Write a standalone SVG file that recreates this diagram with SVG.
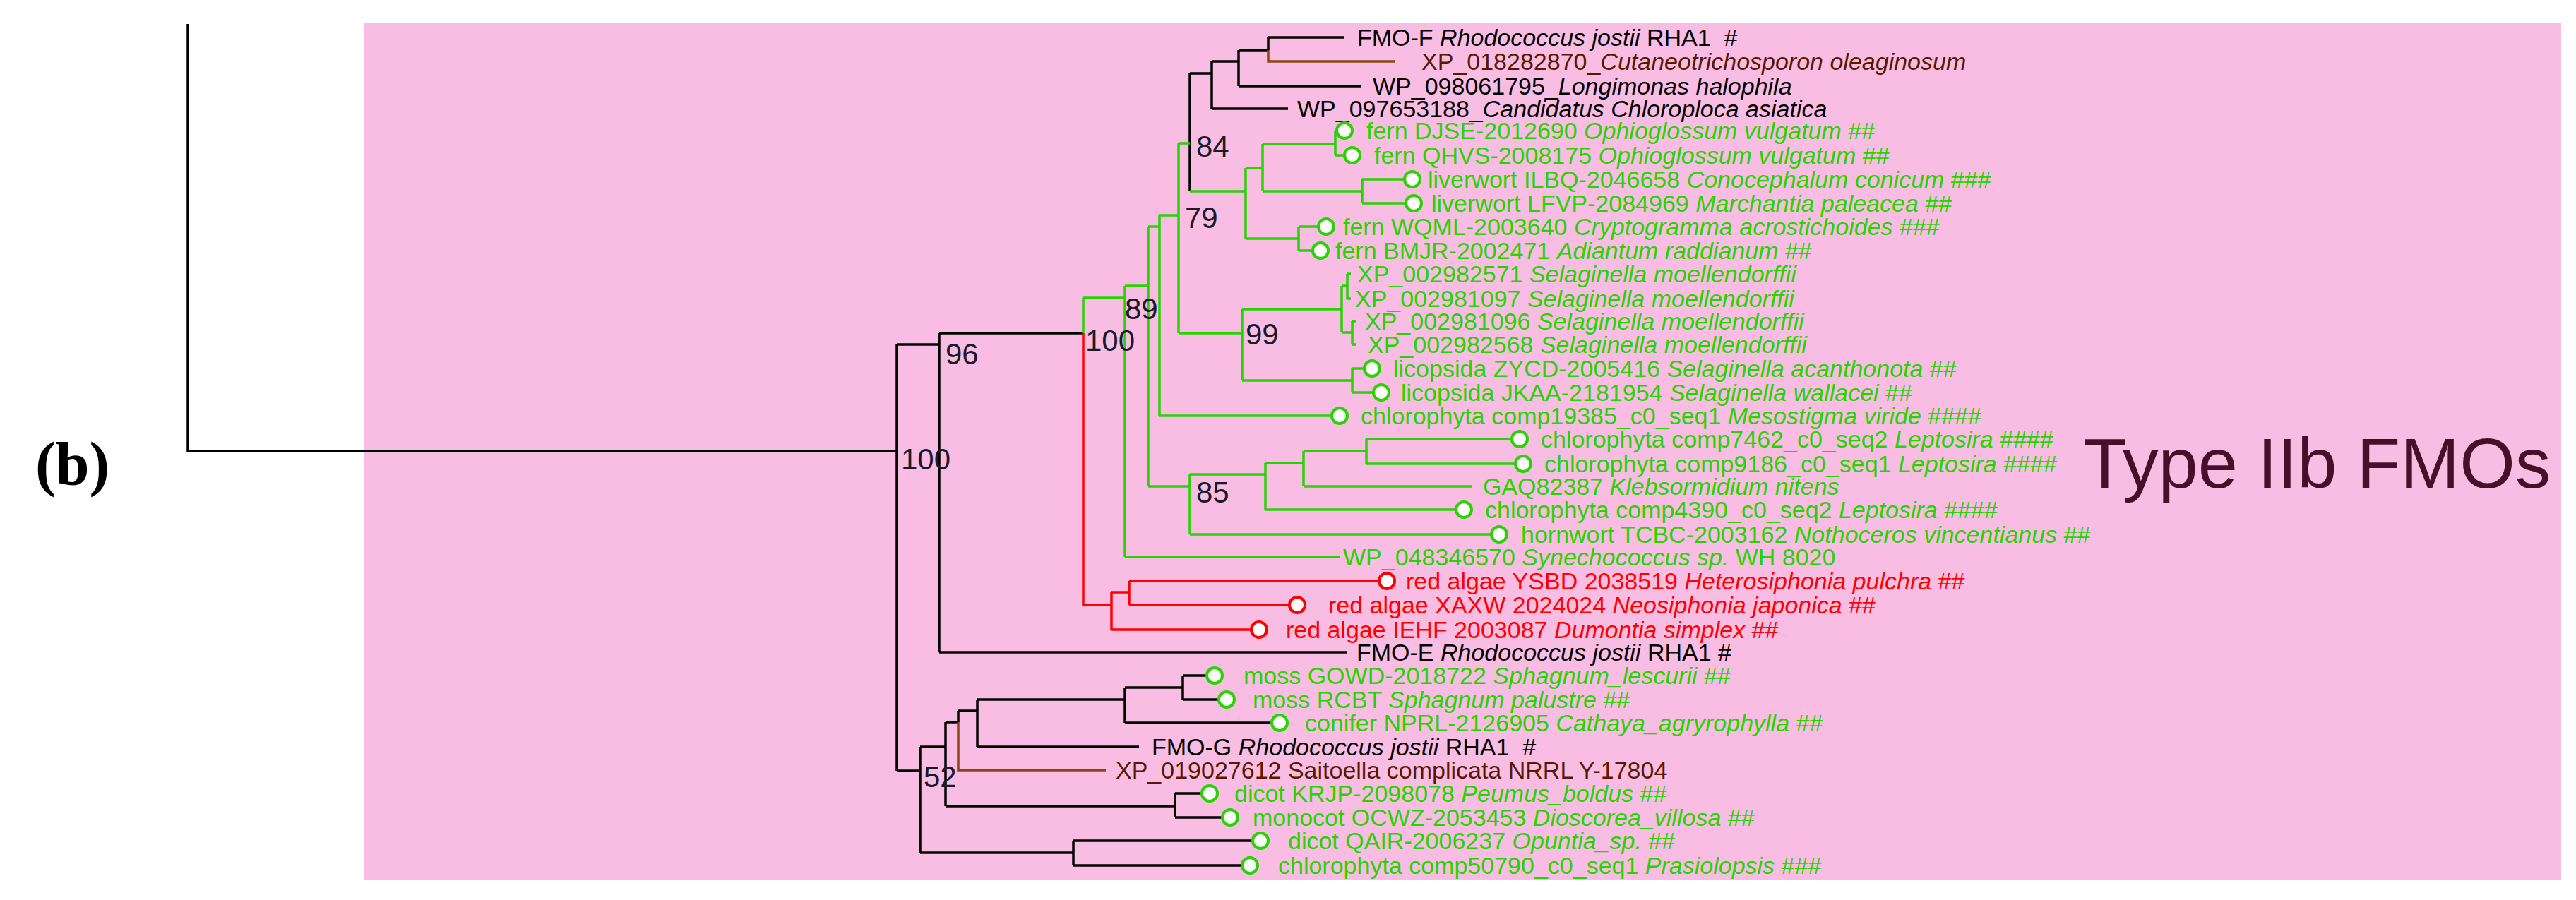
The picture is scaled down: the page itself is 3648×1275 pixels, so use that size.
<svg xmlns="http://www.w3.org/2000/svg" width="3648" height="1275" viewBox="0 0 3648 1275">
<style>
.k{fill:none;stroke:#000;stroke-width:3.5}
.g{fill:none;stroke:#26d400;stroke-width:3.5}
.r{fill:none;stroke:#ff0000;stroke-width:3.5}
.b{fill:none;stroke:#8b4513;stroke-width:3.5}
.cg{fill:#fff;stroke:#26d400;stroke-width:4}
.cr{fill:#fff;stroke:#ff0000;stroke-width:4}
text{font-family:"Liberation Sans",Arial,sans-serif;font-size:34px}
.tk{fill:#000}.tg{fill:#26d400}.tr{fill:#ff0000}.tb{fill:#5a1800}
.i{font-style:italic}
.lab{font-size:42px;fill:#1a1a2a}
</style>
<rect x="0" y="0" width="3648" height="1275" fill="#fff"/>
<rect x="515" y="33" width="3112" height="1213" fill="#f9bde3"/>
<text x="50" y="686" style="font-family:'Liberation Serif','Times New Roman',serif;font-size:86px;font-weight:bold">(b)</text>
<text x="2950" y="691" style="font-size:101px;fill:#4a0e2a">Type IIb FMOs</text>
<g id="connectors">
<path class="k" d="M266 34V639H1270M1270 488V1092M1270 488H1330M1330 472V924M1330 472H1534M1330 924H1908M1270 1092H1303M1303 1058V1208M1303 1058H1339M1339 1023V1142M1339 1023H1357M1357 1007V1023M1357 1007H1384M1384 991V1058M1384 1058H1613M1384 991H1593M1593 974V1024M1593 974H1675M1675 957V991M1675 957H1709M1675 991H1726M1593 1024H1801M1339 1142H1664M1664 1124V1158M1664 1124H1702M1664 1158H1731M1303 1208H1520M1520 1191V1226M1520 1191H1774M1520 1226H1759M1685 104V271M1685 104H1716M1716 87V154M1716 154H1824M1716 87H1754M1754 71V122M1754 122H1927M1754 71H1796M1796 53V71M1796 53H1904"/>
<path class="b" d="M1357 1023V1091H1566M1796 71V87H1976"/>
<path class="g" d="M1669 203H1685M1669 203V472M1669 305H1642M1642 305V589M1642 589H1886M1626 321H1642M1626 321V689M1626 689H1685M1593 405H1626M1593 405V789M1593 789H1897M1534 422H1593M1534 422V472M1685 271H1764M1764 238V338M1764 238H1788M1788 204V271M1788 204H1891M1891 185V220M1891 185H1893M1891 220H1904M1788 271H1929M1929 254V288M1929 254H1989M1929 288H1991M1764 338H1839M1839 321V355M1839 321H1867M1839 355H1859M1669 472H1759M1759 438V539M1759 438H1900M1900 405V471M1900 405H1908M1908 388V423M1908 388H1913M1908 423H1913M1900 471H1915M1915 455V488M1915 455H1920M1915 488H1920M1759 539H1915M1915 522V556M1915 522H1932M1915 556H1945M1685 672V757M1685 672H1792M1792 656V722M1792 656H1846M1846 639V689M1846 639H1935M1935 622V657M1935 622H2141M1935 657H2146M1846 689H2084M1792 722H2062M1685 757H2112"/>
<path class="r" d="M1534 472V857H1574M1574 839V892M1574 839H1599M1599 823V857M1599 823H1953M1599 857H1826M1574 892H1772"/>
</g>
<g id="labels">
<text class="lab" x="1694" y="222">84</text>
<text class="lab" x="1678" y="323">79</text>
<text class="lab" x="1593" y="452">89</text>
<text class="lab" x="1537" y="497">100</text>
<text class="lab" x="1339" y="516">96</text>
<text class="lab" x="1276" y="665">100</text>
<text class="lab" x="1764" y="488">99</text>
<text class="lab" x="1694" y="712">85</text>
<text class="lab" x="1308" y="1115">52</text>
</g>
<g id="tip-fmoF"><text class="tk" x="1922" y="65">FMO-F <tspan class="i">Rhodococcus jostii</tspan> RHA1&#160; #</text></g>
<g id="tip-xp018"><text class="tb" x="2013" y="99">XP_018282870_<tspan class="i">Cutaneotrichosporon oleaginosum</tspan></text></g>
<g id="tip-wp098"><text class="tk" x="1944" y="134">WP_098061795_<tspan class="i">Longimonas halophila</tspan></text></g>
<g id="tip-wp097"><text class="tk" x="1837" y="166">WP_097653188_<tspan class="i">Candidatus Chloroploca asiatica</tspan></text></g>
<g id="tip-djse"><circle class="cg" cx="1904" cy="185" r="11"/><text class="tg" x="1935" y="197">fern DJSE-2012690 <tspan class="i">Ophioglossum vulgatum</tspan> ##</text></g>
<g id="tip-qhvs"><circle class="cg" cx="1915" cy="220" r="11"/><text class="tg" x="1946" y="232">fern QHVS-2008175 <tspan class="i">Ophioglossum vulgatum</tspan> ##</text></g>
<g id="tip-ilbq"><circle class="cg" cx="2000" cy="254" r="11"/><text class="tg" x="2022" y="266">liverwort ILBQ-2046658 <tspan class="i">Conocephalum conicum</tspan> ###</text></g>
<g id="tip-lfvp"><circle class="cg" cx="2002" cy="288" r="11"/><text class="tg" x="2027" y="300">liverwort LFVP-2084969 <tspan class="i">Marchantia paleacea</tspan> ##</text></g>
<g id="tip-wqml"><circle class="cg" cx="1878" cy="321" r="11"/><text class="tg" x="1902" y="333">fern WQML-2003640 <tspan class="i">Cryptogramma acrostichoides</tspan> ###</text></g>
<g id="tip-bmjr"><circle class="cg" cx="1870" cy="355" r="11"/><text class="tg" x="1891" y="367">fern BMJR-2002471 <tspan class="i">Adiantum raddianum</tspan> ##</text></g>
<g id="tip-xp571"><text class="tg" x="1922" y="400">XP_002982571 <tspan class="i">Selaginella moellendorffii</tspan></text></g>
<g id="tip-xp097"><text class="tg" x="1919" y="435">XP_002981097 <tspan class="i">Selaginella moellendorffii</tspan></text></g>
<g id="tip-xp096"><text class="tg" x="1933" y="467">XP_002981096 <tspan class="i">Selaginella moellendorffii</tspan></text></g>
<g id="tip-xp568"><text class="tg" x="1937" y="500">XP_002982568 <tspan class="i">Selaginella moellendorffii</tspan></text></g>
<g id="tip-zycd"><circle class="cg" cx="1943" cy="522" r="11"/><text class="tg" x="1973" y="534">licopsida ZYCD-2005416 <tspan class="i">Selaginella acanthonota</tspan> ##</text></g>
<g id="tip-jkaa"><circle class="cg" cx="1956" cy="556" r="11"/><text class="tg" x="1984" y="568">licopsida JKAA-2181954 <tspan class="i">Selaginella wallacei</tspan> ##</text></g>
<g id="tip-c19385"><circle class="cg" cx="1897" cy="589" r="11"/><text class="tg" x="1927" y="601">chlorophyta comp19385_c0_seq1 <tspan class="i">Mesostigma viride</tspan> ####</text></g>
<g id="tip-c7462"><circle class="cg" cx="2152" cy="622" r="11"/><text class="tg" x="2182" y="634">chlorophyta comp7462_c0_seq2 <tspan class="i">Leptosira</tspan> ####</text></g>
<g id="tip-c9186"><circle class="cg" cx="2157" cy="657" r="11"/><text class="tg" x="2187" y="669">chlorophyta comp9186_c0_seq1 <tspan class="i">Leptosira</tspan> ####</text></g>
<g id="tip-gaq"><text class="tg" x="2100" y="701">GAQ82387 <tspan class="i">Klebsormidium nitens</tspan></text></g>
<g id="tip-c4390"><circle class="cg" cx="2073" cy="722" r="11"/><text class="tg" x="2103" y="734">chlorophyta comp4390_c0_seq2 <tspan class="i">Leptosira</tspan> ####</text></g>
<g id="tip-tcbc"><circle class="cg" cx="2123" cy="757" r="11"/><text class="tg" x="2154" y="769">hornwort TCBC-2003162 <tspan class="i">Nothoceros vincentianus</tspan> ##</text></g>
<g id="tip-wp048"><text class="tg" x="1902" y="801">WP_048346570 <tspan class="i">Synechococcus sp.</tspan> WH 8020</text></g>
<g id="tip-ysbd"><circle class="cr" cx="1964" cy="823" r="11"/><text class="tr" x="1991" y="835">red algae YSBD 2038519 <tspan class="i">Heterosiphonia pulchra</tspan> ##</text></g>
<g id="tip-xaxw"><circle class="cr" cx="1837" cy="857" r="11"/><text class="tr" x="1881" y="869">red algae XAXW 2024024 <tspan class="i">Neosiphonia japonica</tspan> ##</text></g>
<g id="tip-iehf"><circle class="cr" cx="1783" cy="892" r="11"/><text class="tr" x="1821" y="904">red algae IEHF 2003087 <tspan class="i">Dumontia simplex</tspan> ##</text></g>
<g id="tip-fmoE"><text class="tk" x="1921" y="936">FMO-E <tspan class="i">Rhodococcus jostii</tspan> RHA1 #</text></g>
<g id="tip-gowd"><circle class="cg" cx="1720" cy="957" r="11"/><text class="tg" x="1761" y="969">moss GOWD-2018722 <tspan class="i">Sphagnum_lescurii</tspan> ##</text></g>
<g id="tip-rcbt"><circle class="cg" cx="1737" cy="991" r="11"/><text class="tg" x="1774" y="1003">moss RCBT <tspan class="i">Sphagnum palustre</tspan> ##</text></g>
<g id="tip-nprl"><circle class="cg" cx="1812" cy="1024" r="11"/><text class="tg" x="1848" y="1036">conifer NPRL-2126905 <tspan class="i">Cathaya_agryrophylla</tspan> ##</text></g>
<g id="tip-fmoG"><text class="tk" x="1631" y="1070">FMO-G <tspan class="i">Rhodococcus jostii</tspan> RHA1&#160; #</text></g>
<g id="tip-xp019"><text class="tb" x="1580" y="1103">XP_019027612 Saitoella complicata NRRL Y-17804</text></g>
<g id="tip-krjp"><circle class="cg" cx="1713" cy="1124" r="11"/><text class="tg" x="1748" y="1136">dicot KRJP-2098078 <tspan class="i">Peumus_boldus</tspan> ##</text></g>
<g id="tip-ocwz"><circle class="cg" cx="1742" cy="1158" r="11"/><text class="tg" x="1774" y="1170">monocot OCWZ-2053453 <tspan class="i">Dioscorea_villosa</tspan> ##</text></g>
<g id="tip-qair"><circle class="cg" cx="1785" cy="1191" r="11"/><text class="tg" x="1824" y="1203">dicot QAIR-2006237 <tspan class="i">Opuntia_sp.</tspan> ##</text></g>
<g id="tip-c50790"><circle class="cg" cx="1770" cy="1226" r="11"/><text class="tg" x="1810" y="1238">chlorophyta comp50790_c0_seq1 <tspan class="i">Prasiolopsis</tspan> ###</text></g>
</svg>
